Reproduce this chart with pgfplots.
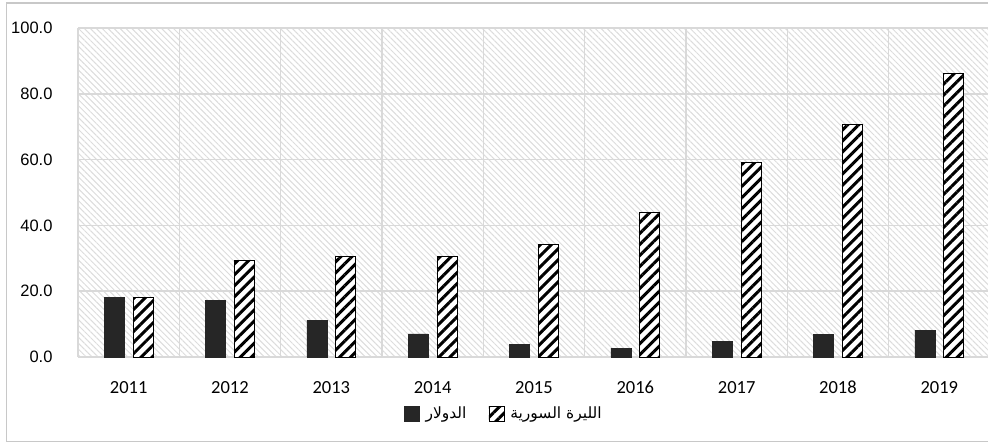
\documentclass[border=0pt]{standalone}
\usepackage{fontspec}
\setmainfont{Liberation Sans}
\newfontfamily\carlito[Numbers=Lining]{Carlito}
\newfontfamily\arabicfont[Script=Arabic]{DejaVu Sans}
\TeXXeTstate=1
\usepackage{pgfplots}
\pgfplotsset{compat=1.18}
\usepackage{pgfplotstable}
\usetikzlibrary{patterns.meta}
\definecolor{gridgray}{RGB}{217,217,217}
\definecolor{bggray}{RGB}{220,220,220}
\definecolor{darkbar}{RGB}{38,38,38}
\definecolor{framegray}{RGB}{200,200,200}
\pgfplotstableread{
year usd syp
2011 18.2 18.2
2012 17.3 29.4
2013 11.2 30.6
2014 7.0 30.6
2015 3.9 34.2
2016 2.7 43.9
2017 4.8 59.1
2018 6.9 70.8
2019 8.2 86.2
}\datatable
\begin{document}
\begin{tikzpicture}
\draw[framegray, line width=1.5bp] (6.5bp,1.5bp) rectangle (1000bp,440bp);
\begin{axis}[
  at={(78bp,86bp)}, anchor=south west,
  scale only axis, width=910bp, height=329bp,
  xmin=2010.5, xmax=2019.48, ymin=0, ymax=100,
  axis background/.style={pattern={Lines[angle=-45,distance=4.2bp,line width=1bp]}, pattern color=bggray},
  axis line style={draw=none},
  xtick={2011,...,2019},
  minor xtick={2010.5,2011.5,...,2019.5},
  xminorgrids, ymajorgrids,
  ytick={0,20,...,100},
  grid style={gridgray, line width=1.5bp},
  minor grid style={gridgray, line width=1.5bp},
  major tick length=0pt, minor tick length=0pt,
  xticklabel style={font=\carlito\fontsize{18.5bp}{21bp}\selectfont, yshift=-21bp, text height=12bp, text depth=0bp},
  xticklabel={\pgfmathprintnumber[1000 sep=]{\tick}},
  yticklabel style={font=\fontsize{16.5bp}{19bp}\selectfont, xshift=-22bp},
  /pgf/number format/assume math mode=true,
  yticklabel={\pgfmathprintnumber[fixed,fixed zerofill,precision=1]{\tick}},
  clip=false,
  legend style={draw=none, fill=none, at={(0.468,-0.172)}, anchor=center,
    font=\arabicfont\fontsize{15.5bp}{18bp}\selectfont,
    /tikz/every even column/.append style={column sep=20bp}},
  legend columns=2,
  legend image code/.code={\draw[#1] (0bp,-7.5bp) rectangle (15bp,7.5bp);},
]
\addplot[ybar, bar width=0.197, bar shift=-0.143, fill=darkbar, draw=darkbar, line width=0.5bp]
  table[x=year, y=usd] {\datatable};
\addlegendentry{\hspace*{4bp}\beginR الدولار\endR}
\addplot[ybar, bar width=0.197, bar shift=0.143, fill=white, draw=black, line width=0.8bp,
  postaction={pattern={Lines[angle=45,distance=7.8bp,line width=3bp]}, pattern color=black}]
  table[x=year, y=syp] {\datatable};
\addlegendentry{\hspace*{4bp}\beginR الليرة السورية\endR}
\end{axis}
\pgfresetboundingbox
\useasboundingbox (0,0) rectangle (988bp,443bp);
\end{tikzpicture}
\end{document}
